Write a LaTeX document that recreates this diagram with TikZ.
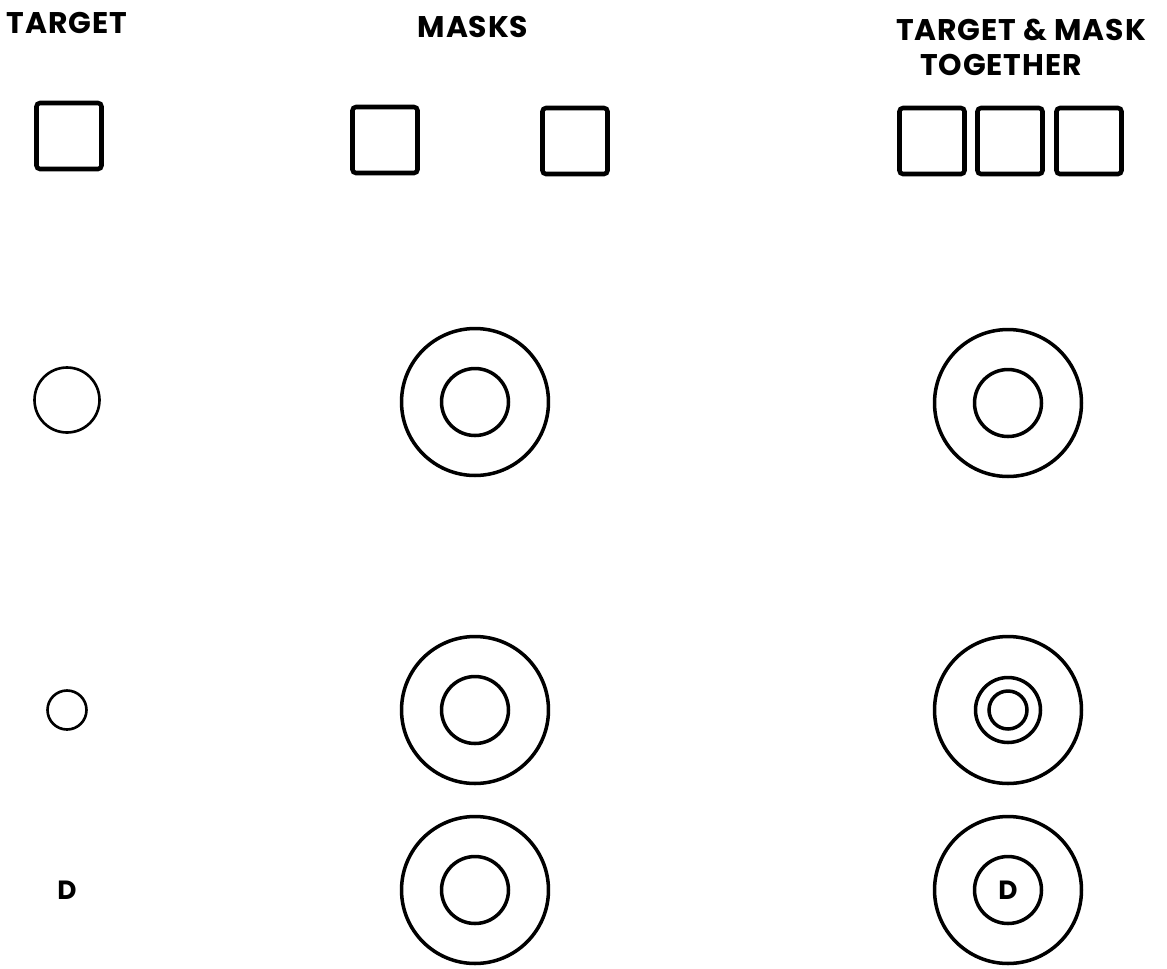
\documentclass[tikz,border=0pt]{standalone}
\usepackage{fontspec}
\setsansfont{Poppins}
\newfontfamily\headfont{Poppins}[LetterSpace=3.0]
\usetikzlibrary{positioning}

\begin{document}
\begin{tikzpicture}[
  x=0.02cm, y=-0.02cm,
  heading/.style={anchor=base, inner sep=0pt, font=\headfont\bfseries\fontsize{17}{19}\selectfont},
  tile/.style={draw, line width=2.6pt, rounded corners=2pt, minimum width=1.3cm, minimum height=1.32cm, inner sep=0pt},
  ring/.style={circle, draw, line width=2pt, inner sep=0pt},
  outer/.style={ring, minimum size=2.94cm},
  inner/.style={ring, minimum size=1.34cm},
  dot/.style={ring, minimum size=0.76cm},
  plain/.style={ring, line width=1.5pt},
  letter/.style={font=\sffamily\bfseries\fontsize{15}{17}\selectfont},
]
\useasboundingbox (0,0) rectangle (1167,968);

\node[heading] (hTarget) at (67,33) {TARGET};
\node[heading] (hMasks) at (473,37) {MASKS};
\node[heading] (hBoth) at (1021,40) {TARGET \& MASK};
\node[heading] (hBoth2) at (1001,75) {TOGETHER};

\node[tile] (sqT) at (69,136) {};
\node[tile] (sqM1) at (385,140) {};
\node[tile] (sqM2) at (575,141) {};
\node[tile] (sqC1) at (932,141) {};
\node[tile] (sqC2) at (1010,141) {};
\node[tile] (sqC3) at (1089,141) {};

\node[plain, minimum size=1.3cm] (ciT1) at (67,400) {};
\node[outer] (ciM1) at (475,402) {};
\node[inner] (ciM1in) at (ciM1) {};
\node[outer] (ciC1) at (1008,403) {};
\node[inner] (ciC1in) at (ciC1) {};

\node[plain, minimum size=0.78cm] (ciT2) at (67,710) {};
\node[outer] (ciM2) at (475,710) {};
\node[inner] (ciM2in) at (ciM2) {};
\node[outer] (ciC2) at (1008,710) {};
\node[inner, minimum size=1.3cm] (ciC2in) at (ciC2) {};
\node[dot] (ciC2dot) at (ciC2) {};

\node[letter] (dT) at (67,890) {D};
\node[outer] (ciM3) at (475,890) {};
\node[inner] (ciM3in) at (ciM3) {};
\node[outer] (ciC3) at (1008,890) {};
\node[inner, letter] (ciC3in) at (ciC3) {D};
\end{tikzpicture}
\end{document}
